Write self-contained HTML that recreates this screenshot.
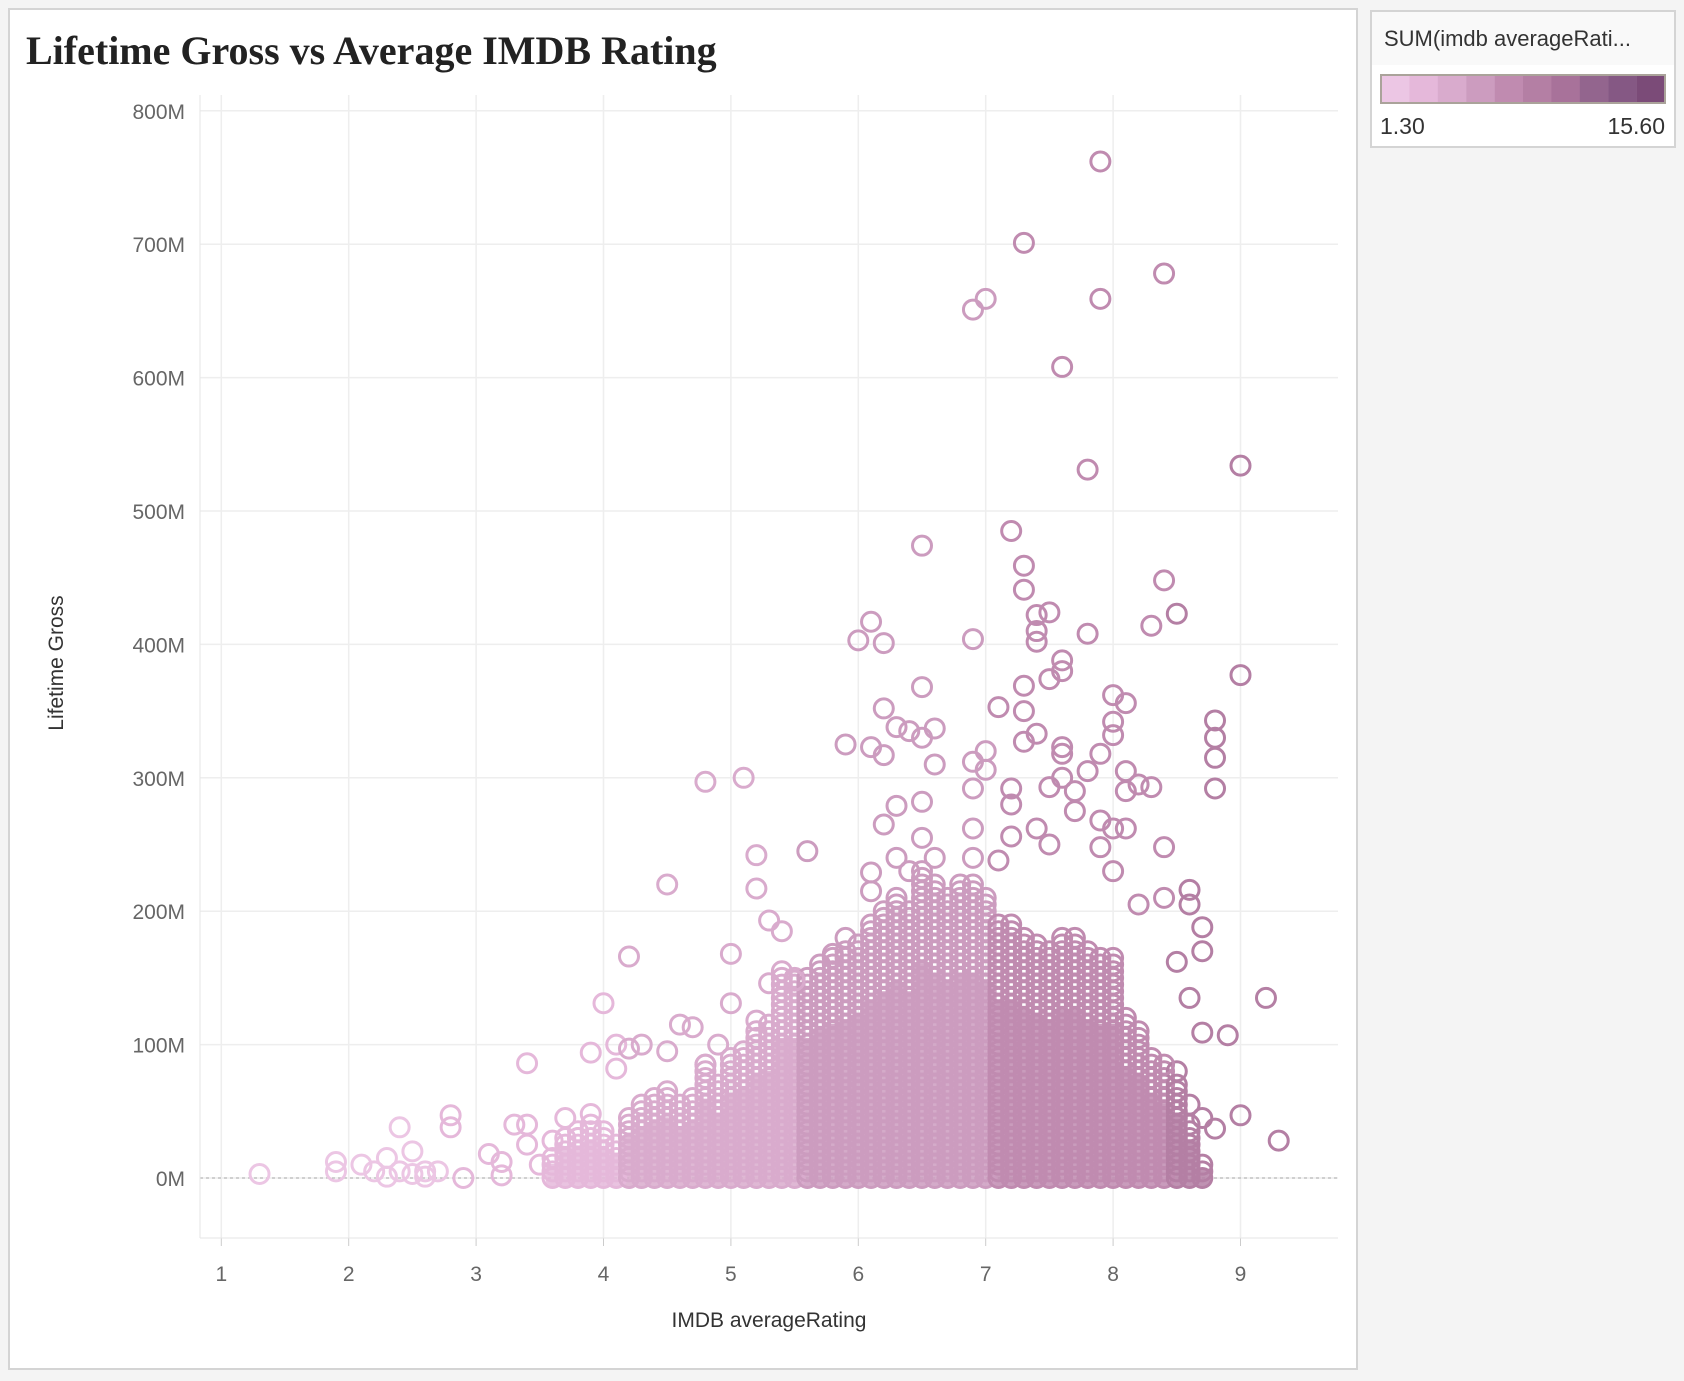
<!DOCTYPE html>
<html><head><meta charset="utf-8"><style>
body{margin:0;background:#f4f4f4;width:1684px;height:1376px;overflow:hidden;font-family:"Liberation Sans",sans-serif}
</style></head><body>
<svg id="chart" width="1684" height="1376" xmlns="http://www.w3.org/2000/svg">
<rect x="9" y="9" width="1348" height="1360" fill="#fff" stroke="#d4d4d4" stroke-width="2"/>
<text x="26" y="64" font-family="Liberation Serif,serif" font-weight="bold" font-size="40" fill="#222">Lifetime Gross vs Average IMDB Rating</text>
<g>
<rect x="1371" y="11" width="304" height="136" fill="#fff" stroke="#d4d4d4" stroke-width="2"/>
<rect x="1372" y="12" width="302" height="53" fill="#f9f9f9"/>
<text x="1384" y="46" font-size="22" fill="#333">SUM(imdb averageRati...</text>
<g id="legendRamp"></g>
<text x="1380" y="134" font-size="23" fill="#333">1.30</text>
<text x="1665" y="134" font-size="23" fill="#333" text-anchor="end">15.60</text>
</g>
<g id="grid"></g>
<g id="fills"></g>
<g id="marks"></g>
<g id="axes"></g>
<text transform="translate(63,663) rotate(-90)" text-anchor="middle" font-size="21" fill="#333">Lifetime Gross</text>
<text x="769" y="1327" text-anchor="middle" font-size="21" fill="#333">IMDB averageRating</text>
</svg>
<script>
const xTicks=[1,2,3,4,5,6,7,8,9];
const yTicks=[0,100,200,300,400,500,600,700,800];
const rampColors=['#ecc6e4','#e5b8da','#d9abcd','#cc9cbf','#c08bb0','#b47fa4','#a8729a','#93658e','#855884','#7b4b78'];
const colorMin=1.3, colorMax=15.6;
// sparse / outlier points: rating, gross (M)
const ratings=[1.3,1.9,1.9,2.1,2.2,2.3,2.3,2.4,2.4,2.5,2.5,2.6,2.6,2.7,2.8,2.8,2.9,3.1,3.2,3.2,3.3,3.4,3.4,3.4,3.5,3.6,3.7,3.8,3.9,3.9,4.0,4.0,4.1,4.1,4.2,4.2,4.3,4.5,4.5,4.6,4.7,4.8,4.8,4.9,5.0,5.0,5.1,5.2,5.2,5.2,5.3,5.3,5.4,5.4,5.5,5.6,5.8,5.9,5.9,6.0,6.0,6.1,6.1,6.1,6.1,6.2,6.2,6.2,6.2,6.3,6.3,6.3,6.4,6.4,6.5,6.5,6.5,6.5,6.5,6.6,6.6,6.6,6.9,6.9,6.9,6.9,6.9,7.0,6.9,7.0,7.0,7.1,7.1,7.2,7.2,7.2,7.2,7.3,7.3,7.3,7.3,7.3,7.3,7.4,7.4,7.4,7.4,7.4,7.5,7.5,7.5,7.5,7.6,7.6,7.6,7.6,7.6,7.6,7.7,7.7,7.8,7.8,7.8,7.9,7.9,7.9,7.9,7.9,8.0,8.0,8.0,8.0,8.0,8.1,8.1,8.1,8.1,8.2,8.2,8.3,8.3,8.4,8.4,8.4,8.4,8.5,8.5,8.6,8.6,8.6,8.7,8.7,8.7,8.8,8.8,8.8,8.8,8.8,8.9,9.0,9.0,9.0,9.2,9.3,8.5,8.6,8.7,8.4];
const grosses=[3,12,5,10,5,15,1,38,5,20,3,5,1,5,47,38,0,18,12,2,40,40,86,25,10,28,45,30,48,94,131,35,100,82,97,166,100,220,95,115,113,297,85,100,168,131,300,242,217,118,193,146,185,155,148,245,168,325,180,403,175,417,323,229,215,401,352,317,265,338,279,240,335,230,474,368,330,282,255,337,310,240,404,312,292,262,240,659,651,320,306,353,238,485,292,280,256,701,459,441,369,350,327,422,410,402,333,262,424,374,293,250,608,388,380,323,318,300,290,275,531,408,305,762,659,318,268,248,362,342,332,262,230,356,305,290,262,295,205,414,293,678,448,248,210,423,162,216,205,135,188,170,109,343,330,315,292,37,107,534,377,47,135,28,80,55,45,85];
// dense cluster: per-rating column, upper edge of dense mass (M)
const denseRatings=[3.6,3.7,3.8,3.9,4.0,4.1,4.2,4.3,4.4,4.5,4.6,4.7,4.8,4.9,5.0,5.1,5.2,5.3,5.4,5.5,5.6,5.7,5.8,5.9,6.0,6.1,6.2,6.3,6.4,6.5,6.6,6.7,6.8,6.9,7.0,7.1,7.2,7.3,7.4,7.5,7.6,7.7,7.8,7.9,8.0,8.1,8.2,8.3,8.4,8.5,8.6,8.7];
const denseTops=[15,30,35,40,30,25,45,55,60,65,55,60,85,70,90,95,110,115,150,150,150,160,165,170,175,190,200,210,200,230,220,210,220,220,210,190,190,180,175,170,180,180,170,165,165,120,110,90,80,70,40,10];
const denseStep=5;

const NS='http://www.w3.org/2000/svg';
const x0=221.3,xPer=127.4,y0=1178,yPer=1.334;
function xs(v){return x0+(v-1)*xPer;}
function ys(v){return y0-v*yPer;}
function col(v){let i=Math.floor((v-colorMin)/((colorMax-colorMin)/rampColors.length));return rampColors[Math.max(0,Math.min(rampColors.length-1,i))];}
function mk(t,a,p){const e=document.createElementNS(NS,t);for(const k in a)e.setAttribute(k,a[k]);p.appendChild(e);return e;}
const grid=document.getElementById('grid'),axes=document.getElementById('axes'),marks=document.getElementById('marks'),fills=document.getElementById('fills'),lr=document.getElementById('legendRamp');
rampColors.forEach((c,i)=>{const r=mk('rect',{x:1381+i*28.4,y:75,width:28.6,height:28,fill:c},lr);

});
mk('rect',{x:1381,y:75,width:284,height:28,fill:'none',stroke:'#aaa39a','stroke-width':2},lr);
const pTop=95,pBot=1238,pLeft=200,pRight=1338;
xTicks.forEach(t=>{const l=mk('line',{x1:xs(t),x2:xs(t),y1:pTop,y2:pBot,stroke:'#eeeeee','stroke-width':1.5},grid);


mk('line',{x1:xs(t),x2:xs(t),y1:pBot,y2:pBot+8,stroke:'#ccc'},axes);
const tx=mk('text',{x:xs(t),y:1281,'text-anchor':'middle','font-size':21,fill:'#666'},axes);tx.textContent=t;

});
yTicks.forEach(t=>{const l=mk('line',{x1:pLeft,x2:pRight,y1:ys(t),y2:ys(t),stroke:'#eeeeee','stroke-width':1.5},grid);


const tx=mk('text',{x:185,y:ys(t)+8,'text-anchor':'end','font-size':21,fill:'#666'},axes);tx.textContent=t+'M';

});
mk('line',{x1:pLeft,x2:pLeft,y1:pTop,y2:pBot,stroke:'#e6e6e6'},axes);
mk('line',{x1:pLeft,x2:pRight,y1:pBot,y2:pBot,stroke:'#e6e6e6'},axes);
const zl=mk('line',{x1:pLeft,x2:pRight,y1:ys(0),y2:ys(0),stroke:'#aaa','stroke-dasharray':'3,3'},grid);


denseRatings.forEach((r,i)=>{
const f=mk('rect',{x:xs(r)-7,y:ys(denseTops[i]*0.7),width:14+xPer*0.1-12,height:Math.max(0,denseTops[i]*0.7*yPer)+8,fill:col(r),opacity:0.85},fills);


for(let g=0;g<=denseTops[i];g+=denseStep){
const c=mk('circle',{cx:xs(r),cy:ys(g),r:9.5,fill:'none',stroke:col(r),'stroke-width':3},marks);

}});
ratings.forEach((r,i)=>{const c=mk('circle',{cx:xs(r),cy:ys(grosses[i]),r:9.5,fill:'none',stroke:col(r),'stroke-width':3},marks);

});
</script>
</body></html>
